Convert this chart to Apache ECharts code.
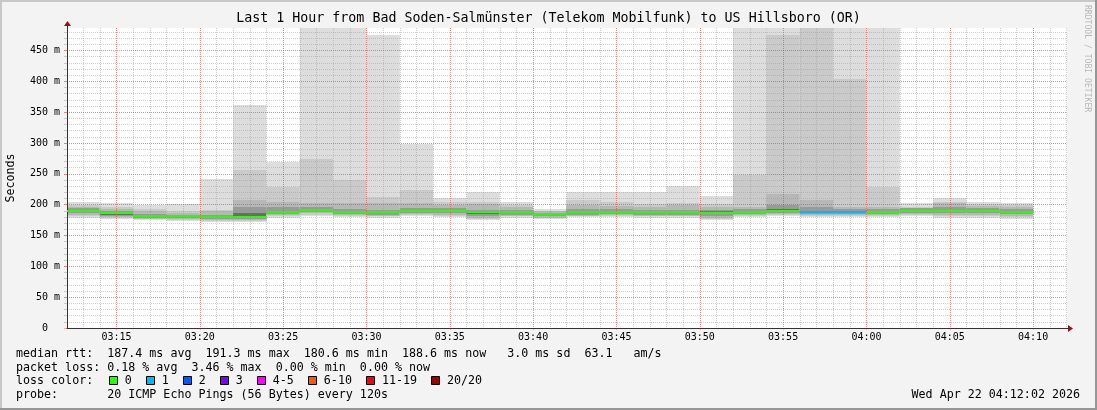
<!DOCTYPE html>
<html><head><meta charset="utf-8">
<script src="https://cdn.jsdelivr.net/npm/echarts@6/dist/echarts.min.js"></script>
<style>html,body{margin:0;padding:0;background:#f3f3f3}#c{width:1097px;height:410px}</style>
</head><body><div id="c"></div>
<script>
// ---- data (ms) ----
const viewStart = '03:12:02';
const viewEnd = '04:12:02';
const stepStart = ['03:12','03:14','03:16','03:18','03:20','03:22','03:24','03:26','03:28','03:30',
  '03:32','03:34','03:36','03:38','03:40','03:42','03:44','03:46','03:48','03:50',
  '03:52','03:54','03:56','03:58','04:00','04:02','04:04','04:06','04:08'];
const median = [190.5,185.7,182,181.5,180.6,180.5,188,191.3,188.5,187.5,190.5,190.5,187.5,187.5,184.5,
  187.5,188.5,187.5,187.5,187,188.5,190.5,188.5,188.5,188.5,190.5,190.5,190.5,188.6];
const loss = [0,0,0,0,0,0,0,0,0,0,0,0,0,0,0,0,0,0,0,0,0,0,1,1,0,0,0,0,0];
// sorted pings (1 = fastest, 20 = slowest) per step
const ping20 = [204,203,199,201,242,361,270,560,560,475,298,211,220,204,193,220,220,221,230,214,560,560,560,560,560,202,211,204,202];
const ping19 = [200,197,193,189,192,257,228,274,240,212,224,205,205,199,190,207,204,201,202,201,248,475,540,404,228,197,204,201,199];
const ping18 = [197,193,189,187,189,207,205,203,202,203,202,200,201,196,189,199,198,197,199,197,196,218,208,197,197,195,202,198,196];
const ping16 = [194,189,185,184,184,197,197,196,193,192,195,194,192,191,187,193,193,191,192,191,193,200,196,193,193,194,196,195,193];
const ping13 = [192,187,183,183,182,186,190,193,190,189,192,192,189,189,186,189,190,189,189,189,190,193,190,190,190,192,192,192,190];
const ping8  = [189,184,181,180,179,179,187,190,187,186,189,189,185,186,183,186,187,186,186,185,187,189,187,187,187,189,189,189,187];
const ping5  = [187,182,179,178,177,177,185,188,185,184,187,187,182,184,181,184,185,184,184,182,185,187,185,185,185,187,186,186,185];
const ping3  = [184,180,177,176,175,175,183,186,183,182,185,184,179,182,179,182,183,182,182,179,183,185,183,183,183,185,183,183,182];
const ping2  = [182,179,176,175,174,174,182,184,182,181,183,182,177,181,178,181,182,181,181,177,182,184,182,182,182,184,181,181,180];
const ping1  = [178,177,175,174,172,172,179,181,180,179,181,180,175,179,177,180,180,178,179,175,180,181,180,180,180,182,178,178,177];
const xTickLabels = ['03:15','03:20','03:25','03:30','03:35','03:40','03:45','03:50','03:55','04:00','04:05','04:10'];
const yTicks = [0,50,100,150,200,250,300,350,400,450];
const yMax = 486.5;
const lossLabels = ['0','1','2','3','4-5','6-10','11-19','20/20'];
const lossColors = ['#26ff00','#00b8ff','#0059ff','#7e00ff','#ff00ff','#ff5500','#ff0000','#a00000'];
const legendLines = [
  'median rtt:  187.4 ms avg  191.3 ms max  180.6 ms min  188.6 ms now   3.0 ms sd  63.1   am/s',
  'packet loss: 0.18 % avg  3.46 % max  0.00 % min  0.00 % now',
  'loss color:',
  'probe:       20 ICMP Echo Pings (56 Bytes) every 120s'
];
const stamp = 'Wed Apr 22 04:12:02 2026';
const titleText = 'Last 1 Hour from Bad Soden-Salmünster (Telekom Mobilfunk) to US Hillsboro (OR)';

// ---- helpers ----
function toMin(s){ const p = s.split(':').map(Number); return (p[0]-3)*60 + p[1] + (p[2]||0)/60; }
function fmtMin(v){ const t = Math.round(v); const h = 3 + Math.floor(t/60), m = t % 60; return String(h).padStart(2,'0') + ':' + String(m).padStart(2,'0'); }
const xMin = toMin(viewStart), xMax = toMin(viewEnd);
const xMajor = xTickLabels.map(toMin);
const xMinor = []; for (let m = Math.ceil(xMin); m <= xMax; m++) xMinor.push(m);
const yMinor = []; for (let v = 10; v < yMax; v += 10) yMinor.push(v);

const smokeColors = ['#dddddd','#cacaca','#b7b7b7','#9a9a9a','#6b6b6b'];
const smokeData = stepStart.map((s,i)=>[toMin(s), toMin(s)+2,
  ping1[i],ping20[i], ping2[i],ping19[i], ping3[i],ping18[i], ping5[i],ping16[i], ping8[i],ping13[i]]);
const medData = stepStart.map((s,i)=>[toMin(s), toMin(s)+2, median[i], loss[i]]);
function lossIdx(l){ if(l<=0) return 0; if(l===1) return 1; if(l===2) return 2; if(l===3) return 3; if(l<=5) return 4; if(l<=10) return 5; if(l<20) return 6; return 7; }

const FONT = 'DejaVu Sans Mono';
const majorColor = 'rgba(255,0,0,0.3)';
const minorColor = 'rgba(150,150,150,0.45)';

// legend graphics
const graphics = [];
const rowY = [354, 367.5, 381, 394.5];
legendLines.forEach((t,i)=>graphics.push({type:'text', x:16, y:rowY[i], z:50,
  style:{text:t, font:'11.66px "'+FONT+'"', fill:'#000', textVerticalAlign:'middle', textAlign:'left'}}));
let bx = 108.6;
lossLabels.forEach((lab,i)=>{
  graphics.push({type:'rect', z:50, shape:{x:Math.round(bx)+0.5, y:376.5, width:8, height:8},
    style:{fill:lossColors[i], stroke:'#000', lineWidth:1}});
  graphics.push({type:'text', z:50, x:bx+16.1, y:rowY[2],
    style:{text:lab, font:'11.66px "'+FONT+'"', fill:'#000', textVerticalAlign:'middle'}});
  bx += 30 + lab.length*7.02;
});
graphics.push({type:'text', z:50, x:1080, y:rowY[3],
  style:{text:stamp, font:'11.66px "'+FONT+'"', fill:'#000', textAlign:'right', textVerticalAlign:'middle'}});
graphics.push({type:'text', z:50, x:548.5, y:19,
  style:{text:titleText, font:'13.3px "'+FONT+'"', fill:'#000', textAlign:'center', textVerticalAlign:'middle'}});
graphics.push({type:'text', z:50, x:1087, y:5, rotation:-Math.PI/2,
  style:{text:'RRDTOOL / TOBI OETIKER', font:'8.1px "'+FONT+'"', fill:'#b8b8b8', textAlign:'left', textVerticalAlign:'middle'}});
// frame
graphics.push({type:'rect', z:60, shape:{x:0,y:0,width:1097,height:2}, style:{fill:'#c8c8c8'}});
graphics.push({type:'rect', z:60, shape:{x:0,y:0,width:2,height:410}, style:{fill:'#c8c8c8'}});
graphics.push({type:'rect', z:61, shape:{x:0,y:408,width:1097,height:2}, style:{fill:'#969696'}});
graphics.push({type:'rect', z:61, shape:{x:1095,y:0,width:2,height:410}, style:{fill:'#969696'}});

const chart = echarts.init(document.getElementById('c'), null, {renderer:'canvas'});
chart.setOption({
  backgroundColor:'#f3f3f3',
  animation:false,
  grid:{left:67, right:30, top:28, bottom:82, show:true, backgroundColor:'#ffffff', borderWidth:0,
        containLabel:false, outerBoundsMode:'none'},
  xAxis:[
    {type:'value', min:xMin, max:xMax, position:'bottom', z:5,
     axisLine:{show:false},
     axisTick:{show:false, customValues:xMinor},
     axisLabel:{show:false},
     splitLine:{show:true, lineStyle:{color:minorColor, type:[1,1], width:1}}},
    {type:'value', min:xMin, max:xMax, position:'bottom', z:6,
     axisLine:{show:true, onZero:false, lineStyle:{color:'#333', width:1}},
     axisTick:{show:true, customValues:xMajor, length:2, lineStyle:{color:majorColor}},
     axisLabel:{customValues:xMajor, formatter:fmtMin, margin:4, fontFamily:FONT, fontSize:10, color:'#000'},
     splitLine:{show:true, lineStyle:{color:majorColor, type:[1,1], width:1}}}
  ],
  yAxis:[
    {type:'value', min:0, max:yMax, position:'left', z:5,
     axisLine:{show:false},
     axisTick:{show:true, customValues:yMinor, length:3, lineStyle:{color:minorColor}},
     axisLabel:{show:false},
     splitLine:{show:true, lineStyle:{color:minorColor, type:[1,1], width:1}}},
    {type:'value', min:0, max:yMax, position:'left', z:6,
     name:'Seconds', nameLocation:'middle', nameGap:50, nameTextStyle:{fontFamily:FONT, fontSize:11.66, color:'#000'},
     axisLine:{show:true, onZero:false, lineStyle:{color:'#333', width:1}},
     axisTick:{show:true, customValues:yTicks, length:3, lineStyle:{color:majorColor}},
     axisLabel:{customValues:yTicks, formatter:v=>v===0?'0  ':(v+' m'), margin:7, fontFamily:FONT, fontSize:10, color:'#000'},
     splitLine:{show:true, lineStyle:{color:majorColor, type:[1,1], width:1}}}
  ],
  series:[
    {type:'custom', name:'smoke', xAxisIndex:1, yAxisIndex:1, z:1, clip:true, silent:true,
     data:smokeData,
     renderItem:function(params, api){
       const x0 = api.value(0), x1 = api.value(1);
       const children = [];
       for (let k=0;k<5;k++){
         const lo = api.value(2+2*k), hi = api.value(3+2*k);
         const a = api.coord([x0, hi]), b = api.coord([x1, lo]);
         const ya = Math.round(a[1]), yb = Math.round(b[1]);
         children.push({type:'rect', shape:{x:a[0], y:ya, width:b[0]-a[0], height:Math.max(1,yb-ya)}, style:{fill:smokeColors[k]}});
       }
       return {type:'group', children};
     }},
    {type:'custom', name:'median', xAxisIndex:1, yAxisIndex:1, z:10, clip:true, silent:true,
     data:medData,
     renderItem:function(params, api){
       const a = api.coord([api.value(0), api.value(2)]), b = api.coord([api.value(1), api.value(2)]);
       const y = Math.round(a[1]);
       return {type:'line', shape:{x1:a[0], y1:y, x2:b[0], y2:y},
         style:{stroke:lossColors[lossIdx(api.value(3))], lineWidth:2}};
     }}
  ],
  graphic:graphics
});
// axis-end arrows (decoration) placed at the axis ends
const o = chart.convertToPixel({gridIndex:0}, [xMin, 0]);
const e = chart.convertToPixel({gridIndex:0}, [xMax, yMax]);
const ax = Math.round(o[0]) + 0.5, ay = Math.round(o[1]) + 0.5, ex = Math.round(e[0]), ey = Math.round(e[1]);
graphics.push({type:'polygon', z:40, shape:{points:[[ex+1, ay-3.5],[ex+6, ay],[ex+1, ay+3.5]]}, style:{fill:'#a01010'}});
graphics.push({type:'polygon', z:40, shape:{points:[[ax-3.5, ey-2],[ax, ey-7],[ax+3.5, ey-2]]}, style:{fill:'#a01010'}});
graphics.push({type:'line', z:40, shape:{x1:ax, y1:ey-3, x2:ax, y2:ey}, style:{stroke:'#333', lineWidth:1}});
graphics.push({type:'line', z:40, shape:{x1:ex, y1:ay, x2:ex+2, y2:ay}, style:{stroke:'#333', lineWidth:1}});
chart.setOption({graphic:graphics});
</script>
</body></html>
